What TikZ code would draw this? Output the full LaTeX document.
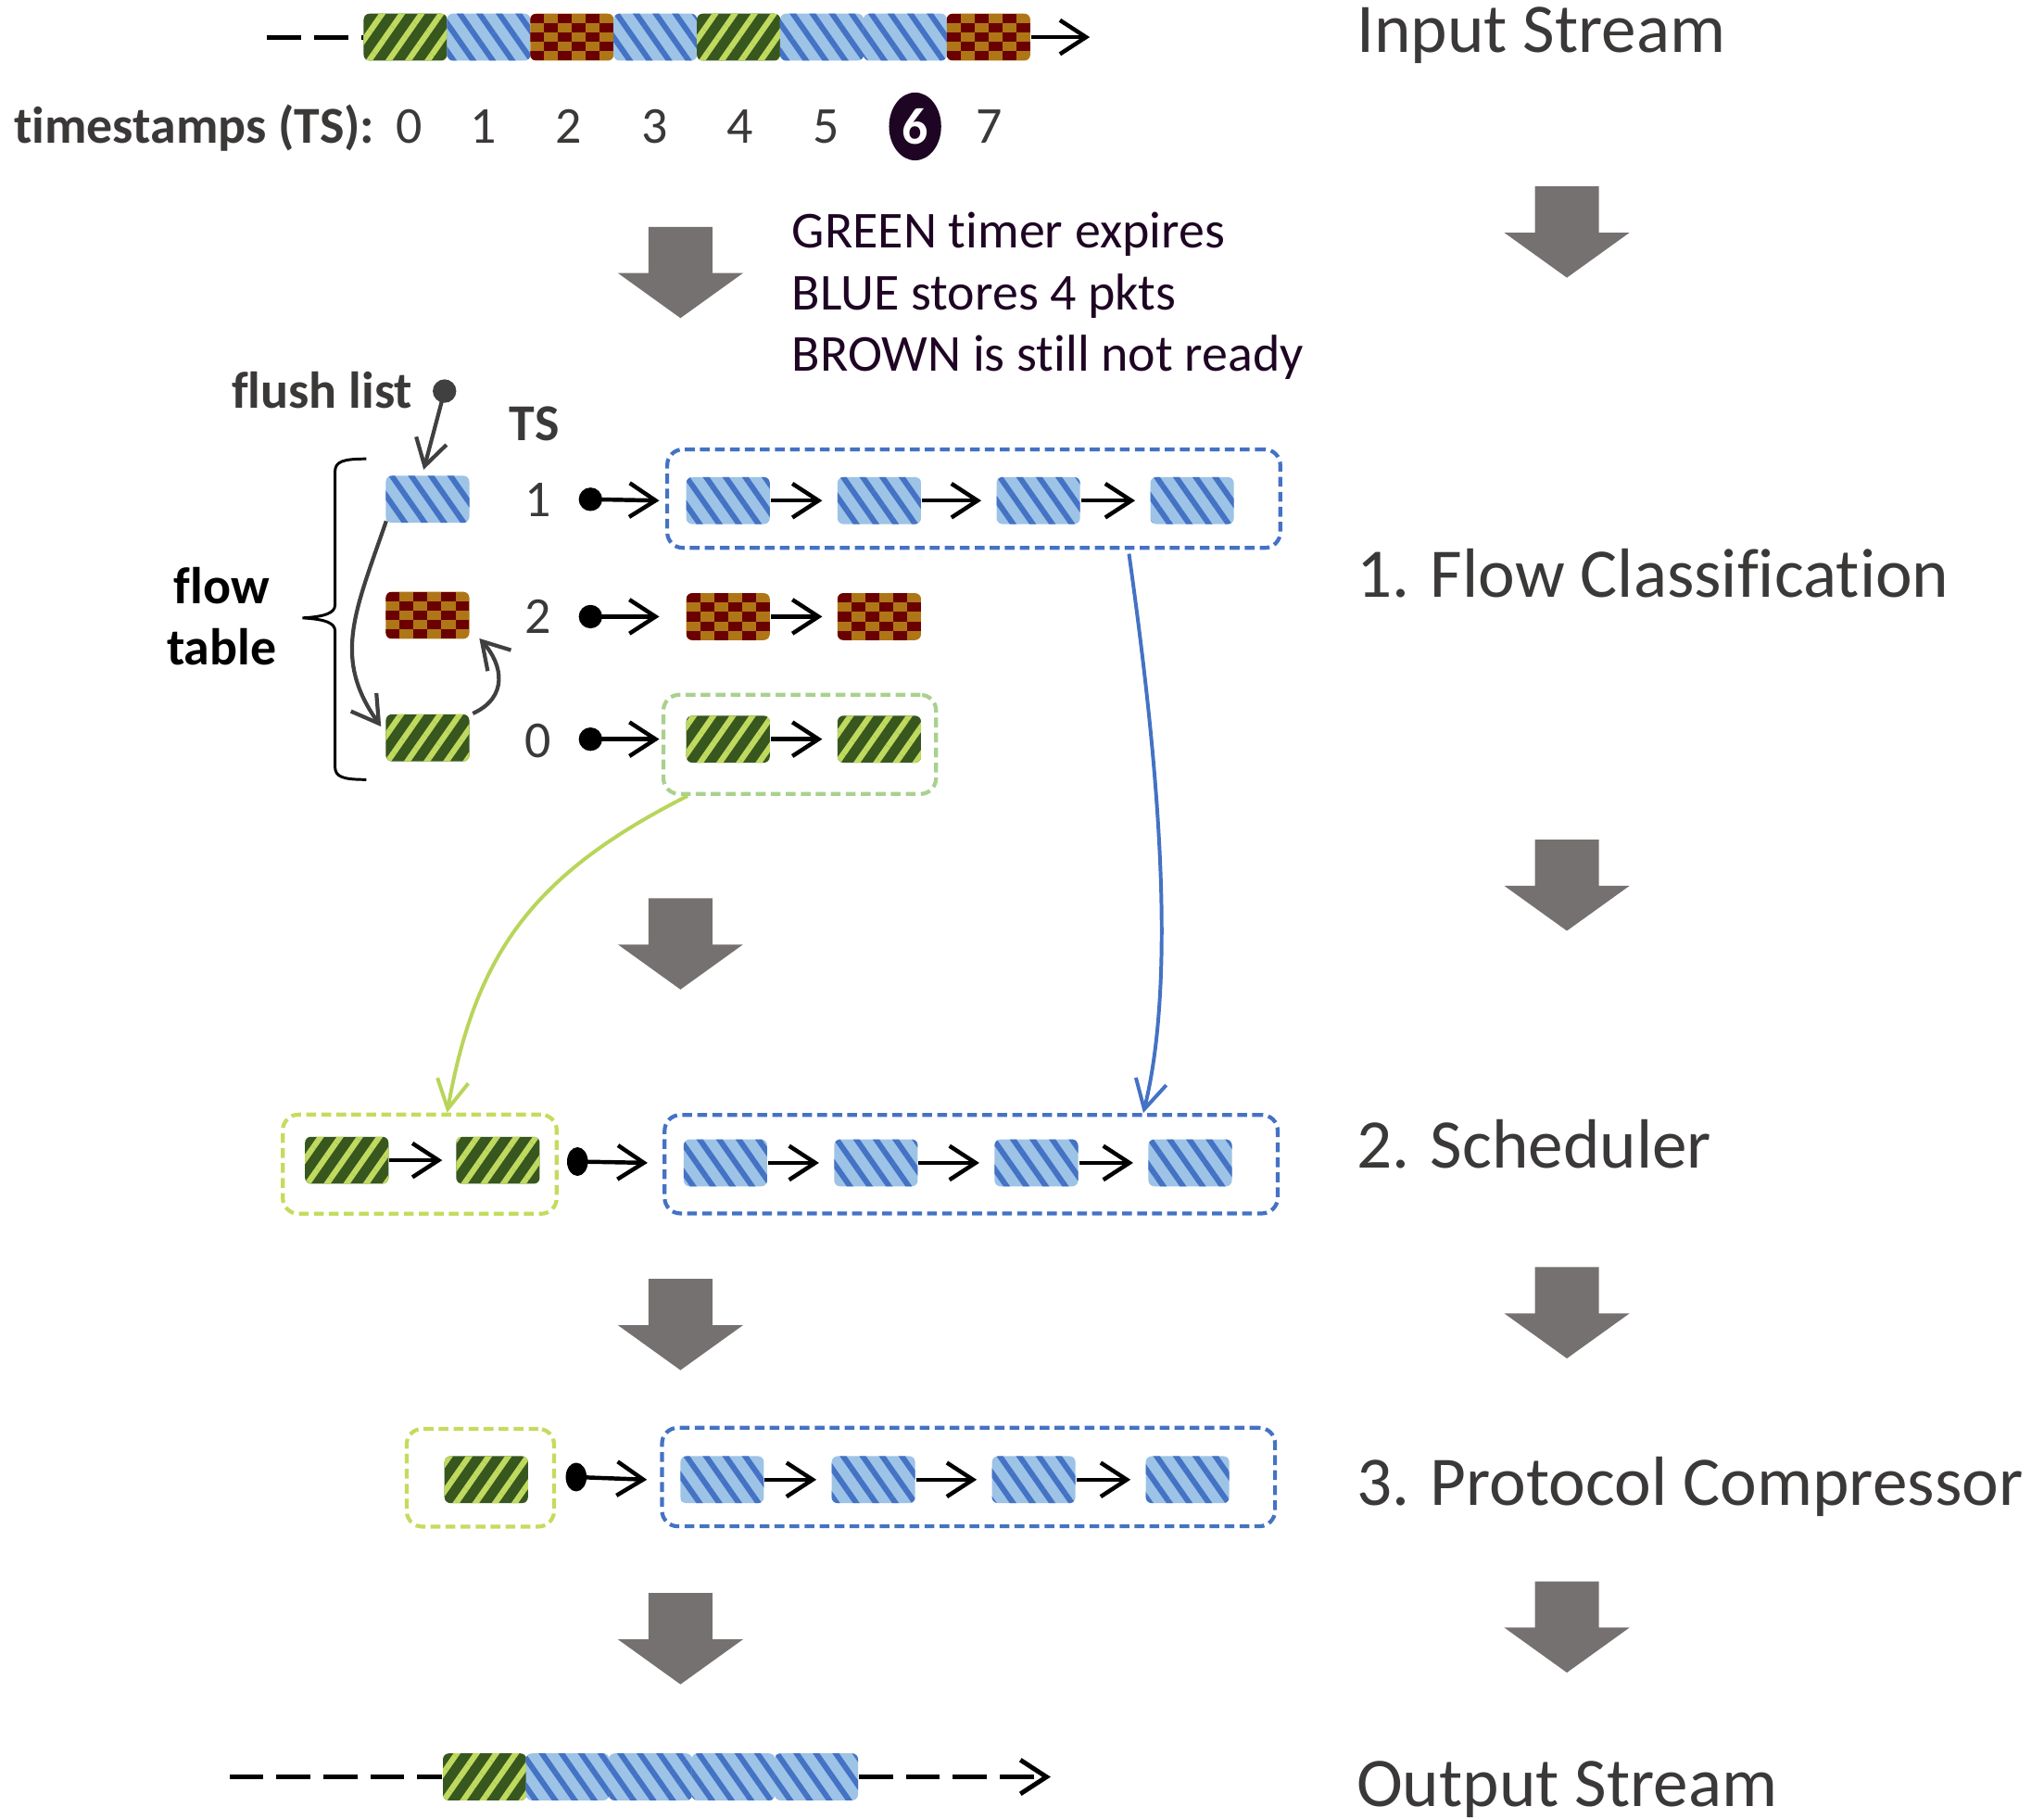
\documentclass[tikz,border=0pt]{standalone}
\usepackage{fontspec}
\setmainfont{Carlito}[Ligatures=NoCommon]
\usetikzlibrary{arrows.meta,patterns.meta,calc,shapes.geometric}
\definecolor{gdark}{HTML}{38571F}
\definecolor{glight}{HTML}{BFDA5E}
\definecolor{blight}{HTML}{9DC3E6}
\definecolor{bdark}{HTML}{4472C4}
\definecolor{rdark}{HTML}{6B0000}
\definecolor{ochre}{HTML}{AF7618}
\definecolor{arrowgray}{HTML}{767171}
\definecolor{txtgray}{HTML}{3B3838}
\definecolor{purp}{HTML}{1F0524}
\definecolor{gboxa}{HTML}{A9D18E}
\definecolor{gboxb}{HTML}{C3DC5E}
\definecolor{gcurve}{HTML}{B8D55A}
\definecolor{dgray}{HTML}{404040}
\newcommand\lblfont{\fontsize{15.2pt}{18pt}\selectfont}
\newcommand\smfont{\fontsize{11.3pt}{13.6pt}\selectfont}
\begin{document}
\begin{tikzpicture}[x=0.01cm,y=-0.01cm,
  pkt/.style={rectangle, minimum width=0.64cm, minimum height=0.36cm, inner sep=0pt, rounded corners=0.045cm},
  gpkt/.style={pkt, fill=gdark, postaction={pattern={Lines[angle=55,distance=3.5pt,line width=1.25pt]}, pattern color=glight}},
  bpkt/.style={pkt, fill=blight, postaction={pattern={Lines[angle=-55,distance=3.5pt,line width=1.2pt]}, pattern color=bdark}},
  rpkt/.style={pkt, fill=ochre, path picture={
     \foreach \i in {0,...,5}{
       \foreach \j in {0,...,4}{
         \pgfmathtruncatemacro\k{mod(\i+\j,2)}
         \ifnum\k=0
           \fill[rdark, sharp corners] ([xshift=\i*0.1067cm, yshift=\j*0.072cm]path picture bounding box.south west) rectangle ++(0.1067cm,0.072cm);
         \fi
       }}
  }},
  arr/.style={line width=0.9pt, -{Straight Barb[length=0.2cm,width=0.26cm]}},
  garr/.style={draw=dgray, line width=0.85pt, -{Straight Barb[length=0.2cm,width=0.24cm]}},
  dotc/.style={circle, fill=black, inner sep=0pt, minimum size=0.18cm},
  doto/.style={ellipse, fill=black, inner sep=0pt, minimum width=0.16cm, minimum height=0.22cm},
  bcont/.style={draw=bdark, rounded corners=0.12cm, line width=0.85pt, dash pattern=on 0.075cm off 0.04cm, minimum width=4.70cm, minimum height=0.755cm, inner sep=0pt},
  gconta/.style={draw=gboxa, rounded corners=0.12cm, line width=0.85pt, dash pattern=on 0.075cm off 0.04cm, minimum height=0.76cm, inner sep=0pt},
  gcontb/.style={draw=gboxb, rounded corners=0.12cm, line width=0.85pt, dash pattern=on 0.075cm off 0.04cm, minimum height=0.76cm, inner sep=0pt},
  streamdash/.style={line width=1pt, dash pattern=on 0.26cm off 0.1cm},
  lbl/.style={font=\lblfont, text=txtgray, inner sep=0pt},
  sm/.style={font=\smfont, text=txtgray, inner sep=0pt},
  smb/.style={font=\smfont\bfseries, text=txtgray, inner sep=0pt},
  bigarrow/.pic={\fill[arrowgray] (-24.5,0) -- (24.5,0) -- (24.5,35.5) -- (48,35.5) -- (0,70) -- (-48,35.5) -- (-24.5,35.5) -- cycle;}
]
\useasboundingbox (0,0) rectangle (1568,1395);

% ---------- right labels ----------
\node[lbl, anchor=base west] (lin) at (1040,40) {Input Stream};
\node[lbl, anchor=base west] (lfc) at (1040,458) {1. Flow Classification};
\node[lbl, anchor=base west] (lsc) at (1040,896) {2. Scheduler};
\node[lbl, anchor=base west] (lpc) at (1040,1155) {3. Protocol Compressor};
\node[lbl, anchor=base west] (lout) at (1040,1386) {Output Stream};

% ---------- big gray arrows ----------
\pic at (1202,143) {bigarrow};
\pic at (1202,644) {bigarrow};
\pic at (1202,972) {bigarrow};
\pic at (1202,1213) {bigarrow};
\pic at (522,174) {bigarrow};
\pic at (522,689) {bigarrow};
\pic at (522,981) {bigarrow};
\pic at (522,1222) {bigarrow};

% ---------- input stream ----------
\node[gpkt] (in1) at (311,28.5) {};
\node[bpkt] (in2) at (374.9,28.5) {};
\node[rpkt] (in3) at (438.8,28.5) {};
\node[bpkt] (in4) at (502.7,28.5) {};
\node[gpkt] (in5) at (566.6,28.5) {};
\node[bpkt] (in6) at (630.5,28.5) {};
\node[bpkt] (in7) at (694.4,28.5) {};
\node[rpkt] (in8) at (758.3,28.5) {};
\coordinate (istart) at (205,28.5);
\coordinate (iend) at (836,28.5);
\draw[streamdash] (istart) -- (in1.west);
\draw[arr] (in8.east) -- (iend);

% timestamps
\node[smb, anchor=base east] (tslbl) at (288,110) {timestamps (TS):};
\node[sm, anchor=base] (t0) at (314,110) {0};
\node[sm, anchor=base] (t1) at (371,110) {1};
\node[sm, anchor=base] (t2) at (436,110) {2};
\node[sm, anchor=base] (t3) at (502,110) {3};
\node[sm, anchor=base] (t4) at (568,110) {4};
\node[sm, anchor=base] (t5) at (634,110) {5};
\node[ellipse, fill=purp, text=white, font=\smfont\bfseries, inner sep=0pt, minimum width=0.40cm, minimum height=0.52cm] (t6) at (702,97) {6};
\node[sm, anchor=base] (t7) at (759,110) {7};

% note
\node[sm, text=purp, anchor=base west] (n1) at (607,190) {GREEN timer expires};
\node[sm, text=purp, anchor=base west] (n2) at (607,238) {BLUE stores 4 pkts};
\node[sm, text=purp, anchor=base west] (n3) at (607,285) {BROWN is still not ready};

% ---------- flow table ----------
\node[smb, anchor=base east] (flush) at (317,313) {flush list};
\node[circle, fill=dgray, inner sep=0pt, minimum size=0.18cm] (fd) at (341,300) {};
\node[smb, anchor=base] (tshead) at (410,338) {TS};
\node[smb, text=black, anchor=base] (fl1) at (170,463) {flow};
\node[smb, text=black, anchor=base] (fl2) at (170,510) {table};

\node[bpkt] (ftb) at (328,383) {};
\node[rpkt] (ftr) at (328,472) {};
\node[gpkt] (ftg) at (328,566) {};

\draw[line width=0.6pt, black] (281,352) .. controls (263,352) and (257,354) .. (257,362) -- (257,464) .. controls (257,470) and (250,473) .. (232,474) .. controls (250,475) and (257,478) .. (257,484) -- (257,588) .. controls (257,596) and (263,598) .. (281,598);

\draw[garr] (fd.center) -- ([xshift=-0.03cm,yshift=0.04cm]ftb.north);
\draw[garr] ([xshift=0.01cm,yshift=0.02cm]ftb.south west) .. controls (272,470) and (255,505) .. ([xshift=-0.03cm,yshift=-0.1cm]ftg.north west);
\draw[garr] ([xshift=0.02cm]ftg.north east) .. controls (390,535) and (386,510) .. ([xshift=0.07cm,yshift=0.01cm]ftr.south east);

\node[sm, anchor=base] (ts1) at (413,396) {1};
\node[sm, anchor=base] (ts2) at (413,486) {2};
\node[sm, anchor=base] (ts0) at (413,581) {0};
\node[dotc] (d1) at (453,383) {};
\node[dotc] (d2) at (453,473) {};
\node[dotc] (d0) at (453,567) {};

% row 1 (blue)
\node[bcont] (bc1) at (747,382.5) {};
\node[bpkt] (b11) at (558.5,384) {};
\node[bpkt] (b12) at (674.5,384) {};
\node[bpkt] (b13) at (796.5,384) {};
\node[bpkt] (b14) at (914.5,384) {};
\draw[arr] (d1.center) -- ([xshift=-0.2cm]b11.west);
\draw[arr] (b11.east) -- ([xshift=-0.11cm]b12.west);
\draw[arr] (b12.east) -- ([xshift=-0.11cm]b13.west);
\draw[arr] (b13.east) -- ([xshift=-0.11cm]b14.west);

% row 2 (brown)
\node[rpkt] (r21) at (558.5,473) {};
\node[rpkt] (r22) at (674.5,473) {};
\draw[arr] (d2.center) -- ([xshift=-0.2cm]r21.west);
\draw[arr] (r21.east) -- ([xshift=-0.11cm]r22.west);

% row 0 (green)
\node[gconta, minimum width=2.09cm] (gc0) at (613.5,571) {};
\node[gpkt] (g01) at (558.5,567) {};
\node[gpkt] (g02) at (674.5,567) {};
\draw[arr] (d0.center) -- ([xshift=-0.2cm]g01.west);
\draw[arr] (g01.east) -- ([xshift=-0.11cm]g02.west);

% ---------- scheduler ----------
\node[gcontb, minimum width=2.10cm] (gc2) at (322,893) {};
\node[gpkt] (sg1) at (266,890) {};
\node[gpkt] (sg2) at (382,890) {};
\draw[arr] (sg1.east) -- ([xshift=-0.1cm]sg2.west);
\node[doto] (ds) at (443,891) {};
\node[bcont] (bc2) at (745,893) {};
\node[bpkt] (s1) at (556.5,892) {};
\node[bpkt] (s2) at (672,892) {};
\node[bpkt] (s3) at (795,892) {};
\node[bpkt] (s4) at (913,892) {};
\draw[arr] (ds.center) -- ([xshift=-0.27cm]s1.west);
\draw[arr] (s1.east) -- ([xshift=-0.11cm]s2.west);
\draw[arr] (s2.east) -- ([xshift=-0.11cm]s3.west);
\draw[arr] (s3.east) -- ([xshift=-0.11cm]s4.west);

% curves from flow classification to scheduler
\draw[draw=gcurve, line width=0.8pt, -{Straight Barb[length=0.22cm,width=0.24cm]}] ([xshift=0.2cm]gc0.south west) .. controls (410,670) and (365,730) .. ([xshift=0.21cm]gc2.north);
\draw[draw=bdark, line width=0.8pt, -{Straight Barb[length=0.22cm,width=0.24cm]}] ([xshift=1.19cm,yshift=-0.03cm]bc1.south) .. controls (885,560) and (905,740) .. ([xshift=1.32cm]bc2.north);

% ---------- protocol compressor ----------
\node[gcontb, minimum width=1.13cm, minimum height=0.75cm] (gc3) at (368.5,1133.5) {};
\node[gpkt] (cg1) at (373,1135) {};
\node[doto] (dc) at (442,1133) {};
\node[bcont] (bc3) at (743,1133) {};
\node[bpkt] (c1) at (554,1135) {};
\node[bpkt] (c2) at (670,1135) {};
\node[bpkt] (c3) at (793,1135) {};
\node[bpkt] (c4) at (911,1135) {};
\draw[arr] (dc.center) -- ([xshift=-0.25cm]c1.west);
\draw[arr] (c1.east) -- ([xshift=-0.11cm]c2.west);
\draw[arr] (c2.east) -- ([xshift=-0.11cm]c3.west);
\draw[arr] (c3.east) -- ([xshift=-0.11cm]c4.west);

% ---------- output stream ----------
\node[gpkt] (o1) at (371.8,1363) {};
\node[bpkt] (o2) at (435.4,1363) {};
\node[bpkt] (o3) at (499,1363) {};
\node[bpkt] (o4) at (562.6,1363) {};
\node[bpkt] (o5) at (626.2,1363) {};
\coordinate (ostart) at (176,1363);
\coordinate (oend) at (806,1363);
\draw[streamdash] (ostart) -- (o1.west);
\draw[streamdash, -{Straight Barb[length=0.2cm,width=0.26cm]}] (o5.east) -- (oend);
\end{tikzpicture}
\end{document}
